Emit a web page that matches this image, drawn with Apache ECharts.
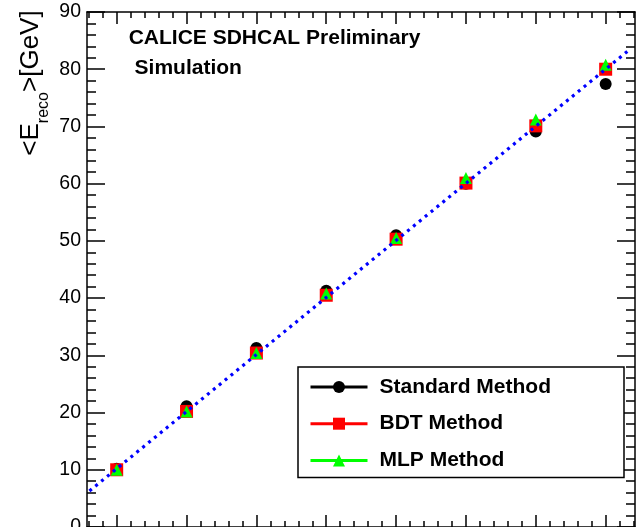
<!DOCTYPE html>
<html>
<head>
<meta charset="utf-8">
<script src="https://cdn.jsdelivr.net/npm/echarts@6/dist/echarts.min.js"></script>
<style>
  html, body { margin: 0; padding: 0; background: #fff; }
  #chart { width: 642px; height: 527px; }
</style>
</head>
<body>
<div id="chart"></div>
<script>
// Beam energies (GeV)
const energies = [10, 20, 30, 40, 50, 60, 70, 80];
// Mean reconstructed energy per method (GeV)
const standardReco = [10.2, 21.1, 31.3, 41.3, 51.0, 60.0, 69.1, 77.4];
const bdtReco = [10.0, 20.2, 30.4, 40.5, 50.3, 60.1, 70.1, 80.0];
const mlpReco = [10.0, 20.2, 30.4, 40.8, 50.5, 61.0, 71.2, 80.8];
// Linear fit drawn over the fit range
const fitX = [6.1, 83.4];
const fitY = [6.3, 83.4];
// Axis ticks
const xMajorTicks = [10, 20, 30, 40, 50, 60, 70, 80];
const xMinorTicks = [6, 8, 12, 14, 16, 18, 22, 24, 26, 28, 32, 34, 36, 38, 42, 44, 46, 48,
                     52, 54, 56, 58, 62, 64, 66, 68, 72, 74, 76, 78, 82, 84];
const xRange = [5.75, 84.2];
const yRange = [0, 90];
const yStep = 10;

const FONT = '"Liberation Sans", Arial, Helvetica, sans-serif';
const frame = { color: '#000', width: 1.5 };

function pairs(xs, ys) { return xs.map((x, i) => [x, ys[i]]); }

function xAxisDef(position, ticks, len, showLine, showLabel) {
  return {
    type: 'value', position: position, min: xRange[0], max: xRange[1],
    axisLine: { show: showLine, onZero: false, lineStyle: frame },
    axisTick: { show: true, inside: true, length: len, customValues: ticks, lineStyle: frame },
    axisLabel: { show: showLabel, customValues: ticks, color: '#000', fontSize: 19.5, fontFamily: FONT },
    splitLine: { show: false }
  };
}

function yAxisDef(position, showLabel) {
  return {
    type: 'value', position: position, min: yRange[0], max: yRange[1], interval: yStep,
    axisLine: { show: true, onZero: false, lineStyle: frame },
    axisTick: { show: true, inside: true, length: 18, lineStyle: frame },
    minorTick: { show: true, splitNumber: 5, length: 9, lineStyle: frame },
    axisLabel: { show: showLabel, margin: 6, color: '#000', fontSize: 19.5, fontFamily: FONT },
    splitLine: { show: false }, minorSplitLine: { show: false }
  };
}

function methodSeries(name, ys, color, symbol, size) {
  return {
    name: name, type: 'line', xAxisIndex: 0, yAxisIndex: 0,
    data: pairs(energies, ys),
    symbol: symbol, symbolSize: size, showSymbol: true,
    itemStyle: { color: color, opacity: 1 },
    lineStyle: { color: color, opacity: 0 },
    emphasis: { disabled: true }
  };
}

const chart = echarts.init(document.getElementById('chart'), null, { renderer: 'canvas' });
chart.setOption({
  animation: false,
  backgroundColor: '#fff',
  grid: { left: 87, right: 7, top: 12, bottom: 0, containLabel: false, outerBoundsMode: 'none' },
  xAxis: [
    xAxisDef('bottom', xMajorTicks, 12, true, true),
    xAxisDef('top', xMajorTicks, 12, true, false),
    xAxisDef('bottom', xMinorTicks, 6, false, false),
    xAxisDef('top', xMinorTicks, 6, false, false)
  ],
  yAxis: [
    yAxisDef('left', true),
    yAxisDef('right', false)
  ],
  legend: {
    orient: 'vertical', left: 298, top: 367,
    padding: [9, 73, 6, 11], itemGap: 14.7,
    itemWidth: 57, itemHeight: 15,
    borderColor: '#000', borderWidth: 1.5, backgroundColor: '#fff',
    data: ['Standard Method', 'BDT Method', 'MLP Method'],
    lineStyle: { width: 3, opacity: 1 },
    textStyle: { fontSize: 21, lineHeight: 22, fontWeight: 'bold', color: '#000',
                 fontFamily: FONT, padding: [0, 0, 0, 7] },
    selectedMode: false
  },
  graphic: [
    { type: 'text', x: 128.7, y: 38.7, z: 10,
      style: { text: 'CALICE SDHCAL Preliminary', fill: '#000',
               font: 'bold 21px ' + FONT, verticalAlign: 'middle', textVerticalAlign: 'middle' } },
    { type: 'text', x: 134.6, y: 68, z: 10,
      style: { text: 'Simulation', fill: '#000',
               font: 'bold 21px ' + FONT, verticalAlign: 'middle', textVerticalAlign: 'middle' } },
    { type: 'text', x: 35, y: 83, rotation: Math.PI / 2, z: 10,
      style: {
        text: '{a|<E}{b|reco}{a|>[GeV]}',
        align: 'center', verticalAlign: 'middle',
        textAlign: 'center', textVerticalAlign: 'middle',
        rich: {
          a: { fontSize: 26, fontFamily: FONT, fill: '#000', color: '#000', lineHeight: 26, verticalAlign: 'top' },
          b: { fontSize: 16, fontFamily: FONT, fill: '#000', color: '#000', lineHeight: 34, verticalAlign: 'bottom', padding: [17, 0, 0, 0] }
        }
      } }
  ],
  series: [
    methodSeries('Standard Method', standardReco, '#000000', 'circle', 12),
    methodSeries('BDT Method', bdtReco, '#ff0000', 'rect', 13),
    methodSeries('MLP Method', mlpReco, '#00ff00', 'triangle', 12),
    {
      name: 'fit', type: 'line', xAxisIndex: 0, yAxisIndex: 0, z: 5,
      data: pairs(fitX, fitY), showSymbol: false, symbol: 'none',
      lineStyle: { color: '#0000ff', width: 3.2, type: [3, 4.6] },
      emphasis: { disabled: true }
    }
  ]
});
</script>
</body>
</html>
